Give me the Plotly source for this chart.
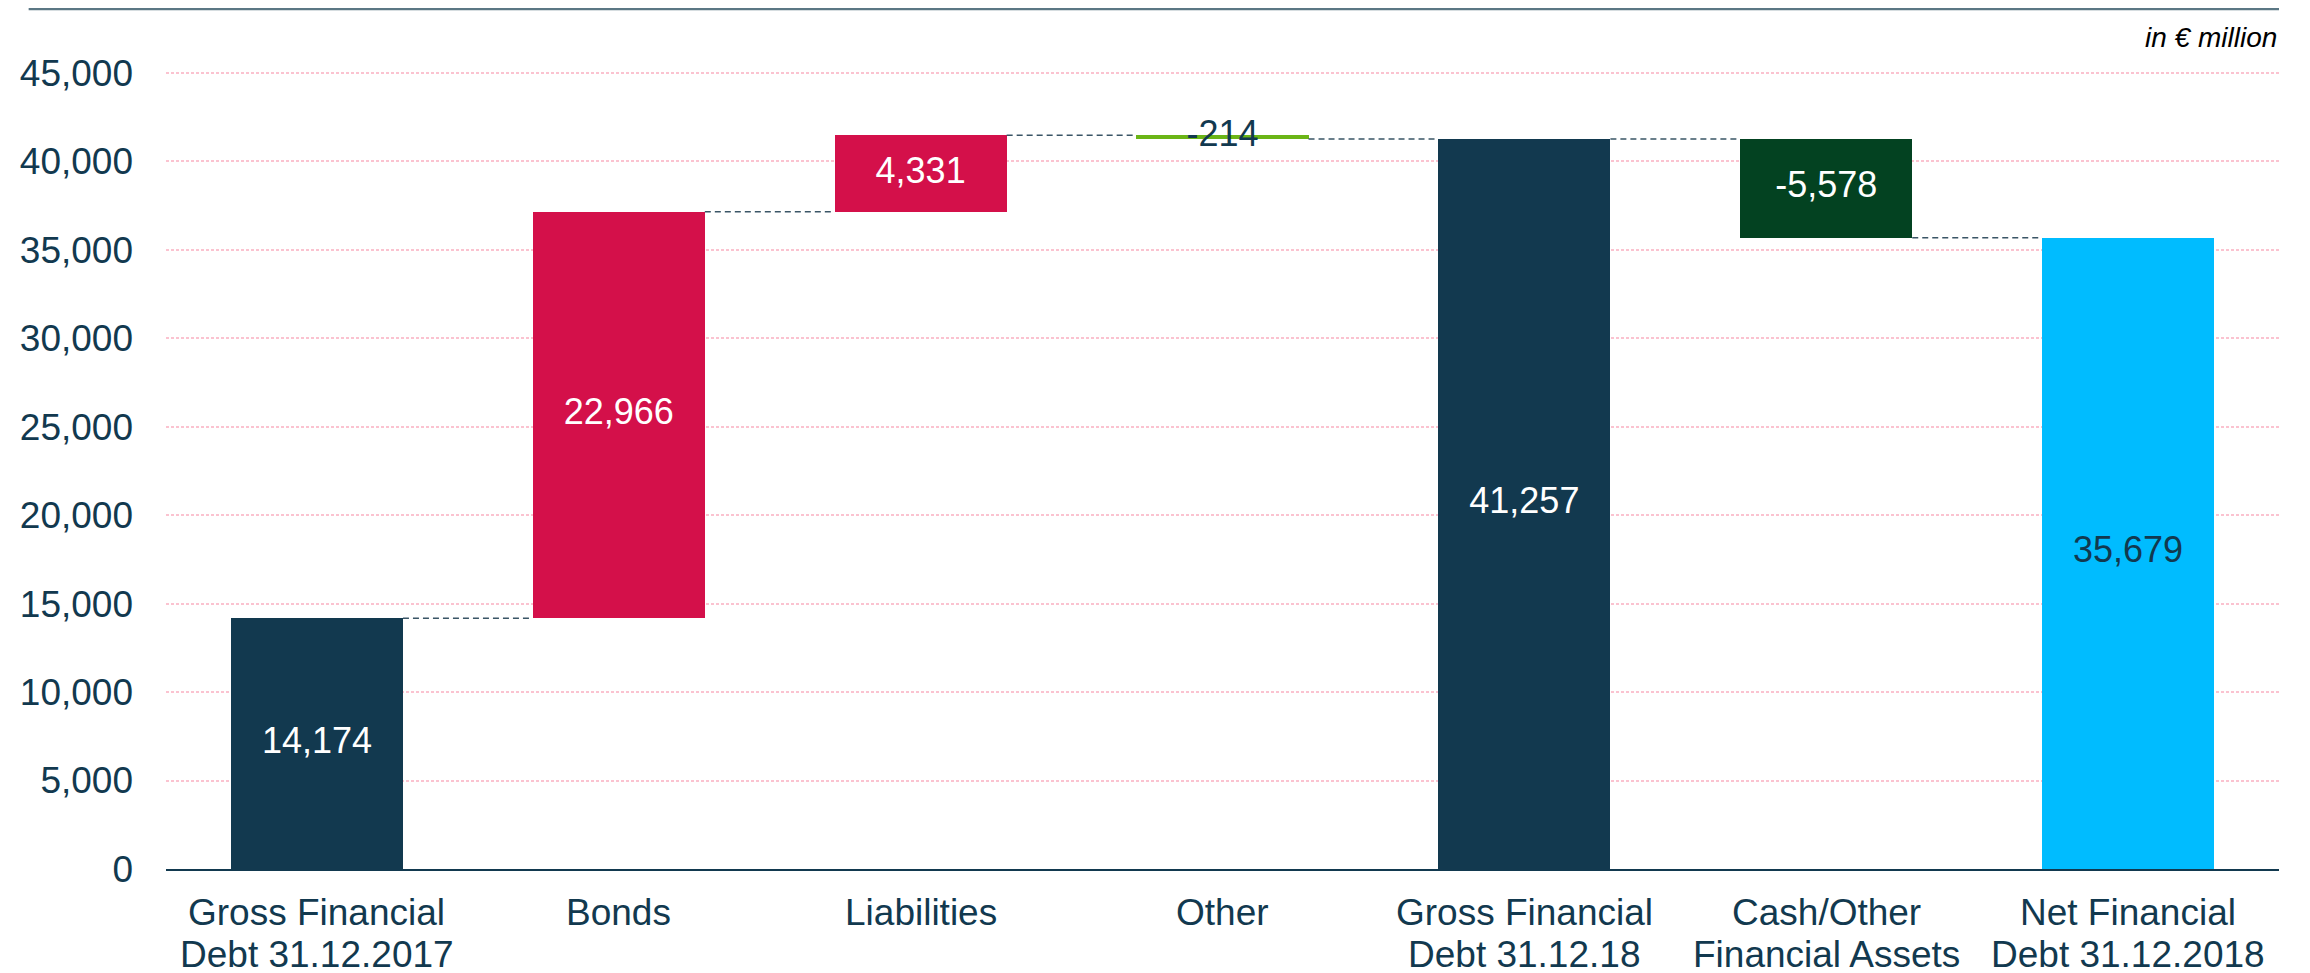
import plotly.graph_objects as go

categories = ["Gross Financial<br>Debt 31.12.2017", "Bonds", "Liabilities", "Other",
              "Gross Financial<br>Debt 31.12.18", "Cash/Other<br>Financial Assets",
              "Net Financial<br>Debt 31.12.2018"]
values = [14174, 22966, 4331, -214, 41257, -5578, 35679]
measures = ["total", "relative", "relative", "relative", "total", "relative", "total"]
bar_colors = ["#12394f", "#d4104a", "#d4104a", "#6bb516", "#12394f", "#034221", "#00bcff"]
label_colors = ["white", "white", "white", "#12394f", "white", "white", "#12394f"]
y_ticks = [0, 5000, 10000, 15000, 20000, 25000, 30000, 35000, 40000, 45000]

FONT = "Liberation Sans, Arial, sans-serif"
NAVY = "#12394f"

# compute bar bases / heights from the waterfall data
bases, heights, ends = [], [], []
level = 0
for v, m in zip(values, measures):
    if m == "total":
        level = v
        bases.append(0)
        heights.append(v)
    else:
        start = level
        level = level + v
        bases.append(min(start, level))
        heights.append(abs(v))
    ends.append(level)

xs = list(range(len(categories)))
bw = 0.57

fig = go.Figure()
fig.add_trace(go.Bar(x=xs, y=heights, base=bases, width=bw,
                     marker=dict(color=bar_colors, line=dict(width=0)),
                     hoverinfo="skip", showlegend=False))
fig.add_trace(go.Scatter(x=xs, y=[b + h / 2 for b, h in zip(bases, heights)],
                         mode="text", text=[f"{v:,}" for v in values],
                         textfont=dict(family=FONT, size=36, color=label_colors),
                         textposition="middle center", showlegend=False, hoverinfo="skip"))

shapes = []
for i in range(len(xs) - 1):
    shapes.append(dict(type="line", xref="x", yref="y",
                       x0=xs[i] + bw / 2, x1=xs[i + 1] - bw / 2, y0=ends[i], y1=ends[i],
                       line=dict(color="#3a5566", width=1.5, dash="6px,4px")))
shapes.append(dict(type="line", xref="paper", yref="paper", x0=-0.065, x1=1.0,
                   y0=1.0776, y1=1.0776, line=dict(color="#5b7784", width=2.5)))

annotations = [dict(text="<i>in € million</i>", xref="paper", yref="paper",
                    x=1.0, y=1.0425, xanchor="right", yanchor="middle",
                    showarrow=False, font=dict(family=FONT, size=28, color="black"))]
for x, cat in zip(xs, categories):
    for k, line in enumerate(cat.split("<br>")):
        annotations.append(dict(text=line, xref="x", yref="paper", x=x, y=0,
                                xanchor="center", yanchor="middle", yshift=-43.5 - 42 * k,
                                showarrow=False, font=dict(family=FONT, size=37, color=NAVY)))

fig.update_layout(
    width=2310, height=973,
    margin=dict(l=148, r=39, t=63, b=112),
    plot_bgcolor="white", paper_bgcolor="white",
    bargap=0,
    shapes=shapes,
    annotations=annotations,
    font=dict(family=FONT, color=NAVY),
    xaxis=dict(range=[-0.5, len(xs) - 0.5], tickvals=xs, showticklabels=False,
               showgrid=False, showline=True, linecolor=NAVY, linewidth=1.5,
               ticks="", zeroline=False, fixedrange=True),
    yaxis=dict(range=[0, 45100], tickvals=y_ticks, ticktext=[f"{t:,}" for t in y_ticks],
               tickfont=dict(family=FONT, size=37, color=NAVY),
               showgrid=True, gridcolor="#fbc3d0", gridwidth=1.5, griddash="3px,2px",
               zeroline=False, showline=False, ticks="", ticklabelstandoff=32),
)

fig.write_html("out.html")
